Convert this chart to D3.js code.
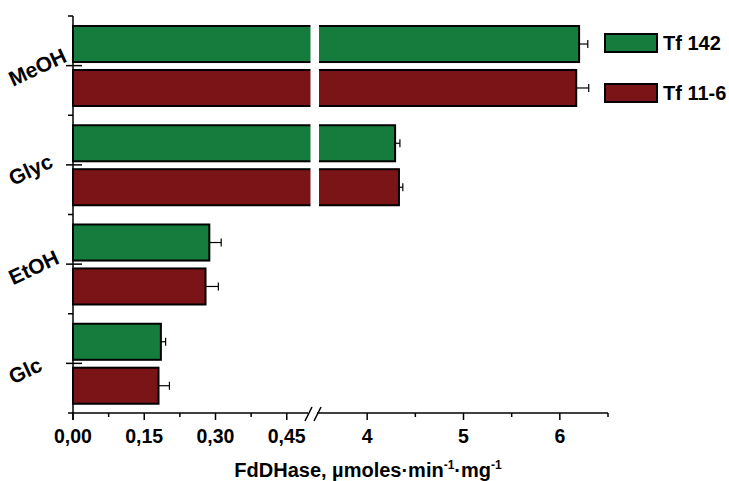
<!DOCTYPE html>
<meta charset="utf-8">
<style>
  body { margin: 0; background: #fff; }
  text { font-family: Arial, "Liberation Sans", sans-serif; font-weight: bold; }
  .bar { stroke: #000; stroke-width: 2; }
  .ax { stroke: #000; stroke-width: 1.5; fill: none; }
</style>
<svg width="729" height="481"></svg>
<script src="https://cdn.jsdelivr.net/npm/d3@7"></script>
<script>
// data
var categories = ["MeOH", "Glyc", "EtOH", "Glc"];
var series = ["Tf 142", "Tf 11-6"];
var tf142 = [6.20, 4.29, 0.287, 0.185];
var tf116 = [6.17, 4.33, 0.279, 0.180];
var err142 = [0.09, 0.05, 0.025, 0.010];
var err116 = [0.13, 0.04, 0.027, 0.023];
var ticksLow = [0, 0.15, 0.30, 0.45];
var ticksHigh = [4, 5, 6];
var colors = ["#167c3e", "#7a1416"];

var svg = d3.select("svg");

// two x scales for the broken axis
var xL = d3.scaleLinear().domain([0, 0.5]).range([73, 310.5]);
var xR = d3.scaleLinear().domain([3.5, 6.5]).range([319, 608]);
var brk = 0.5;
function xpos(v) { return v <= brk ? xL(v) : xR(v); }

var y = d3.scaleBand().domain(categories).range([16, 413]);
var ys = d3.scaleBand().domain(series).range([10, 90]).paddingInner(0.18);

var rows = [];
categories.forEach(function(c, i) {
  rows.push({cat: c, s: series[0], v: tf142[i], e: err142[i], col: colors[0]});
  rows.push({cat: c, s: series[1], v: tf116[i], e: err116[i], col: colors[1]});
});

var g = svg.append("g");
g.selectAll("rect.bar").data(rows).enter().append("rect")
    .attr("class", "bar")
    .attr("x", xL(0))
    .attr("y", function(d) { return y(d.cat) + ys(d.s); })
    .attr("width", function(d) { return xpos(d.v) - xL(0); })
    .attr("height", ys.bandwidth())
    .attr("fill", function(d) { return d.col; });

// white gap where the axis is broken
g.selectAll("rect.gap").data(rows.filter(function(d) { return d.v > brk; })).enter().append("rect")
    .attr("x", xL(brk)).attr("width", xR(3.5) - xL(brk))
    .attr("y", function(d) { return y(d.cat) + ys(d.s) - 2; })
    .attr("height", ys.bandwidth() + 4)
    .attr("fill", "#fff");

// error bars
var eb = g.selectAll("g.err").data(rows).enter().append("g");
eb.append("line")
    .attr("x1", function(d) { return xpos(d.v); })
    .attr("x2", function(d) { return xpos(d.v + d.e); })
    .attr("y1", function(d) { return y(d.cat) + ys(d.s) + ys.bandwidth() / 2; })
    .attr("y2", function(d) { return y(d.cat) + ys(d.s) + ys.bandwidth() / 2; })
    .attr("stroke", "#000").attr("stroke-width", 1.2);
eb.append("line")
    .attr("x1", function(d) { return xpos(d.v + d.e); })
    .attr("x2", function(d) { return xpos(d.v + d.e); })
    .attr("y1", function(d) { return y(d.cat) + ys(d.s) + ys.bandwidth() / 2 - 4; })
    .attr("y2", function(d) { return y(d.cat) + ys(d.s) + ys.bandwidth() / 2 + 4; })
    .attr("stroke", "#000").attr("stroke-width", 1.2);

// y axis
var y0 = 413;
svg.append("line").attr("class", "ax").attr("x1", 73).attr("x2", 73).attr("y1", 16).attr("y2", y0 + 7);
var edges = categories.map(function(c) { return y(c); }).concat([y0]);
svg.selectAll("line.ytm").data(edges).enter().append("line")
    .attr("class", "ax").attr("x1", 68).attr("x2", 73)
    .attr("y1", function(d) { return d; }).attr("y2", function(d) { return d; });
svg.selectAll("line.ytM").data(categories).enter().append("line")
    .attr("class", "ax").attr("x1", 66).attr("x2", 82)
    .attr("y1", function(d) { return y(d) + y.bandwidth() / 2; })
    .attr("y2", function(d) { return y(d) + y.bandwidth() / 2; });
svg.selectAll("text.ylab").data(categories).enter().append("text")
    .attr("text-anchor", "start")
    .attr("transform", function(d) { return "translate(13," + (y(d) + y.bandwidth() / 2 + 21) + ") rotate(-25)"; })
    .style("font-size", "21px")
    .text(function(d) { return d; });

// x axis (two pieces)
svg.append("line").attr("class", "ax").attr("x1", 73).attr("x2", 308).attr("y1", y0).attr("y2", y0);
svg.append("line").attr("class", "ax").attr("x1", 317).attr("x2", xR(6.5)).attr("y1", y0).attr("y2", y0);
[305, 314].forEach(function(bx) {
  svg.append("line").attr("class", "ax")
      .attr("x1", bx).attr("y1", y0 + 8).attr("x2", bx + 7).attr("y2", y0 - 6);
});

var minorL = [0.075, 0.225, 0.375];
var minorR = [4.5, 5.5, 6.5];
svg.selectAll("line.xtL").data(ticksLow).enter().append("line").attr("class", "ax")
    .attr("x1", function(d) { return xL(d); }).attr("x2", function(d) { return xL(d); })
    .attr("y1", y0).attr("y2", y0 + 7);
svg.selectAll("line.xtR").data(ticksHigh).enter().append("line").attr("class", "ax")
    .attr("x1", function(d) { return xR(d); }).attr("x2", function(d) { return xR(d); })
    .attr("y1", y0).attr("y2", y0 + 7);
svg.selectAll("line.xmL").data(minorL).enter().append("line").attr("class", "ax")
    .attr("x1", function(d) { return xL(d); }).attr("x2", function(d) { return xL(d); })
    .attr("y1", y0).attr("y2", y0 + 4);
svg.selectAll("line.xmR").data(minorR).enter().append("line").attr("class", "ax")
    .attr("x1", function(d) { return xR(d); }).attr("x2", function(d) { return xR(d); })
    .attr("y1", y0).attr("y2", y0 + 4);

var fmt = d3.format(".2f");
svg.selectAll("text.xlL").data(ticksLow).enter().append("text")
    .attr("x", function(d) { return xL(d); }).attr("y", 443)
    .attr("text-anchor", "middle").style("font-size", "19.5px")
    .text(function(d) { return fmt(d).replace(".", ","); });
svg.selectAll("text.xlR").data(ticksHigh).enter().append("text")
    .attr("x", function(d) { return xR(d); }).attr("y", 443)
    .attr("text-anchor", "middle").style("font-size", "19.5px")
    .text(function(d) { return d; });

// x title
var t = svg.append("text").attr("x", 368).attr("y", 477).attr("text-anchor", "middle").style("font-size", "20px");
t.append("tspan").text("FdDHase, \u00b5moles\u00b7min");
t.append("tspan").attr("dy", -8).style("font-size", "12px").text("-1");
t.append("tspan").attr("dy", 8).text("\u00b7mg");
t.append("tspan").attr("dy", -8).style("font-size", "12px").text("-1");

// legend
var lg = svg.selectAll("g.lg").data(series).enter().append("g")
    .attr("transform", function(d, i) { return "translate(605," + (34 + i * 50) + ")"; });
lg.append("rect").attr("class", "bar").attr("width", 52).attr("height", 18)
    .attr("fill", function(d, i) { return colors[i]; });
lg.append("text").attr("x", 58).attr("y", 16).style("font-size", "20px").text(function(d) { return d; });
</script>
